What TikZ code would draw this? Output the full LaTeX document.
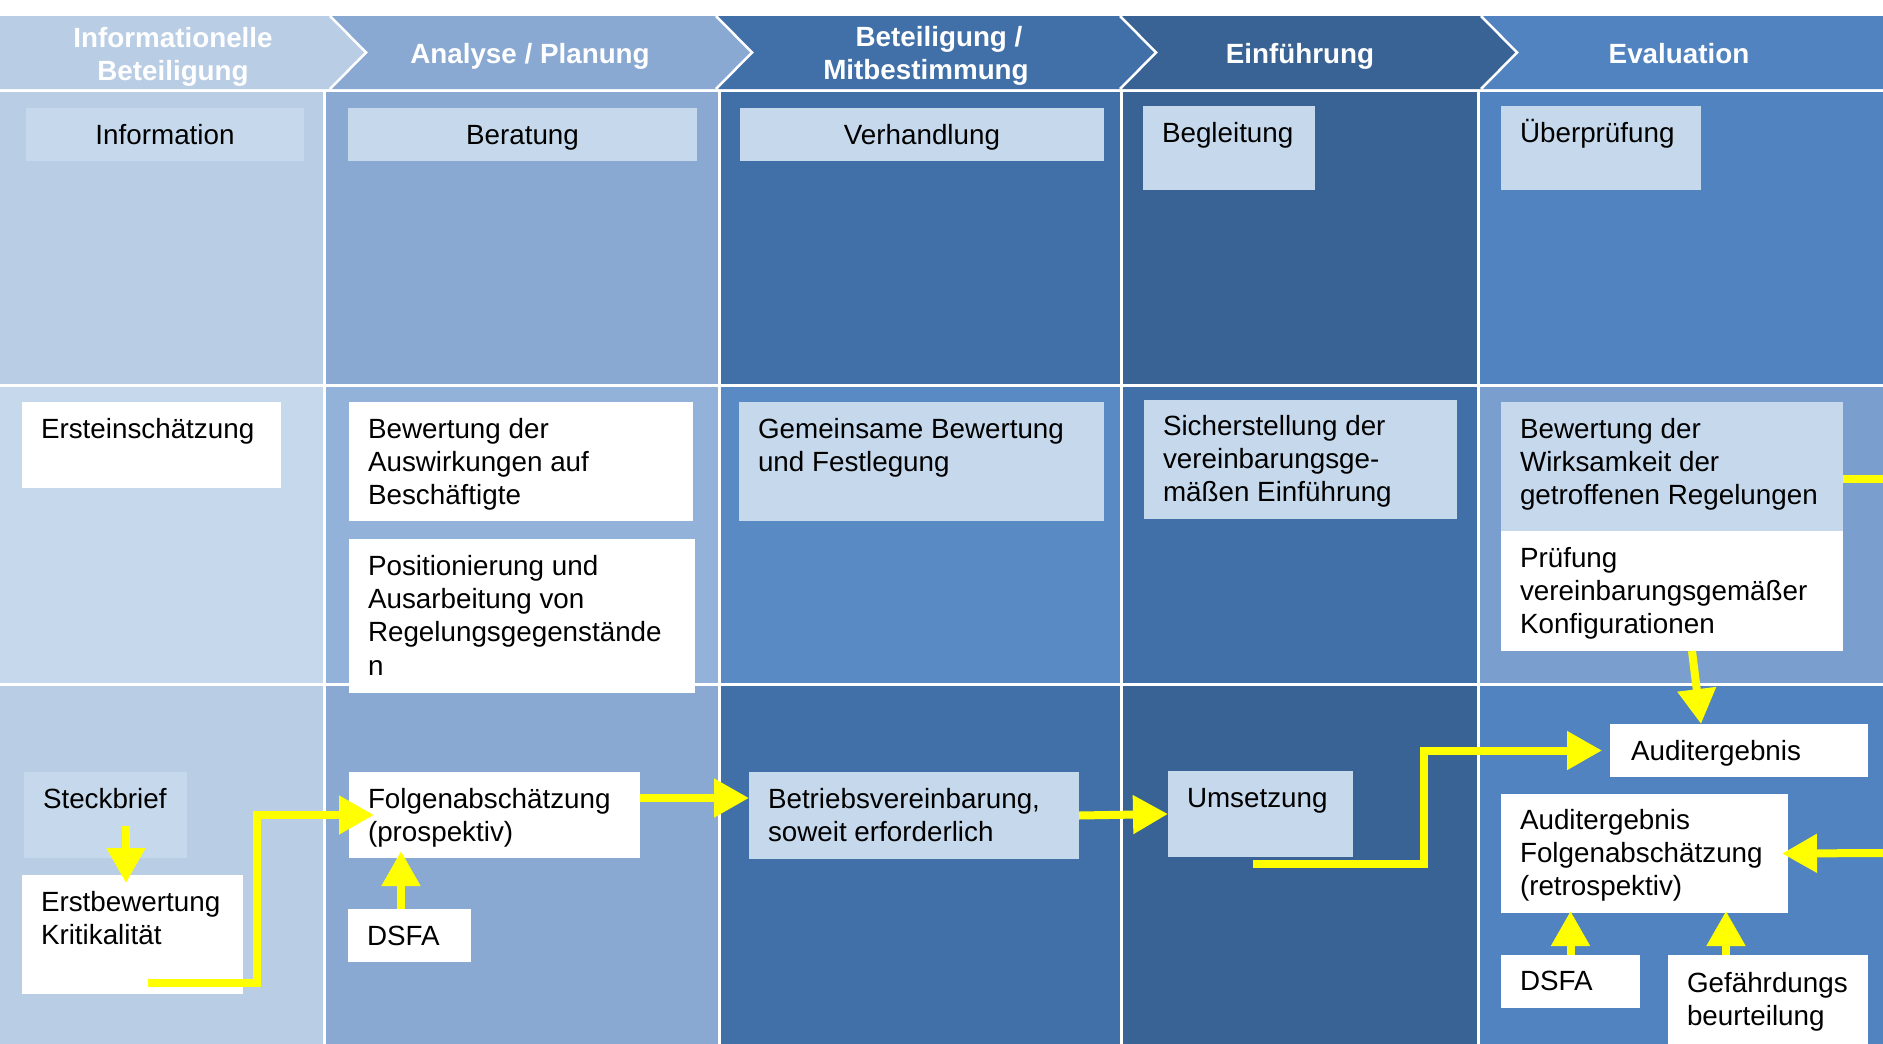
\documentclass[tikz,border=0pt]{standalone}
\usepackage{fontspec}
\setmainfont{Liberation Sans}
\usetikzlibrary{arrows.meta}
\definecolor{cA}{HTML}{B9CDE5}
\definecolor{cB}{HTML}{89A9D2}
\definecolor{cC}{HTML}{4170A8}
\definecolor{cD}{HTML}{386394}
\definecolor{cE}{HTML}{5083BF}
\definecolor{mA}{HTML}{C6D8EB}
\definecolor{mB}{HTML}{93B2D9}
\definecolor{mC}{HTML}{5A8AC3}
\definecolor{mD}{HTML}{4170A8}
\definecolor{mE}{HTML}{7A9FCE}
\definecolor{lbox}{HTML}{C6D9EC}
\definecolor{ylw}{HTML}{FFFF00}
\newcommand\ml[1]{\begin{tabular}[t]{@{}l@{}}#1\end{tabular}}
\newcommand\mc[1]{\begin{tabular}[t]{@{}c@{}}#1\end{tabular}}
\newcommand\mkbox[6]{\node[boxst, fill=#2, minimum width={#5-#3}, minimum height={#6-#4}] (#1) at (#3,#4) {};}
\begin{document}
\begin{tikzpicture}[x=1pt,y=-1pt,
  boxst/.style={anchor=north west, inner sep=0pt, outer sep=0pt, draw=none},
  txt/.style={anchor=base west, inner sep=0pt, outer sep=0pt, font=\fontsize{27.8}{33.4}\selectfont, text=black},
  ctxt/.style={anchor=base, inner sep=0pt, outer sep=0pt, font=\fontsize{27.8}{33.4}\selectfont, text=black},
  head/.style={anchor=base, inner sep=0pt, outer sep=0pt, font=\bfseries\fontsize{27.8}{33.4}\selectfont, text=white},
  ya/.style={draw=ylw, line width=8pt, -{Triangle[length=35pt,width=37pt]}},
  yl/.style={draw=ylw, line width=8pt},
  gridln/.style={draw=white, line width=3pt},
  chev/.style={draw=white, line width=2.5pt}]
\useasboundingbox (0,0) rectangle (1883,1044);
\fill[white] (0,0) rectangle (1883,1044);
% body cells
\fill[cA] (0,89) rectangle (324,385);
\fill[cB] (324,89) rectangle (719,385);
\fill[cC] (719,89) rectangle (1121,385);
\fill[cD] (1121,89) rectangle (1478,385);
\fill[cE] (1478,89) rectangle (1883,385);
\fill[mA] (0,385) rectangle (324,684);
\fill[mB] (324,385) rectangle (719,684);
\fill[mC] (719,385) rectangle (1121,684);
\fill[mD] (1121,385) rectangle (1478,684);
\fill[mE] (1478,385) rectangle (1883,684);
\fill[cA] (0,684) rectangle (324,1044);
\fill[cB] (324,684) rectangle (719,1044);
\fill[cC] (719,684) rectangle (1121,1044);
\fill[cD] (1121,684) rectangle (1478,1044);
\fill[cE] (1478,684) rectangle (1883,1044);
\draw[gridln] (0,90) -- (1883,90);
\draw[gridln] (0,385) -- (1883,385);
\draw[gridln] (0,684) -- (1883,684);
\foreach \xx in {324,719,1121,1478} {\draw[gridln] (\xx,90) -- (\xx,1044);}
% header chevrons
\fill[cA] (0,16) -- (330,16) -- (366,52.5) -- (330,89) -- (0,89) -- cycle;
\fill[cB] (330,16) -- (716,16) -- (752,52.5) -- (716,89) -- (330,89) -- (366,52.5) -- cycle;
\fill[cC] (716,16) -- (1120,16) -- (1156,52.5) -- (1120,89) -- (716,89) -- (752,52.5) -- cycle;
\fill[cD] (1120,16) -- (1481,16) -- (1517,52.5) -- (1481,89) -- (1120,89) -- (1156,52.5) -- cycle;
\fill[cE] (1481,16) -- (1883,16) -- (1883,89) -- (1481,89) -- (1517,52.5) -- cycle;
\draw[chev] (330,16) -- (366,52.5) -- (330,89);
\draw[chev] (716,16) -- (752,52.5) -- (716,89);
\draw[chev] (1120,16) -- (1156,52.5) -- (1120,89);
\draw[chev] (1481,16) -- (1517,52.5) -- (1481,89);
\node[head] (h1) at (173,47) {\mc{Informationelle\\Beteiligung}};
\node[head] (h2) at (530,63) {Analyse / Planung};
\node[head] (h3) at (926,46.5) {\mc{\hspace*{26pt}Beteiligung /\\Mitbestimmung}};
\node[head] (h4) at (1300,63) {Einführung};
\node[head] (h5) at (1679,63) {Evaluation};
% boxes row 1
\mkbox{info}{lbox}{26}{108}{304}{161}
\mkbox{bera}{lbox}{348}{108}{697}{161}
\mkbox{verh}{lbox}{740}{108}{1104}{161}
\mkbox{begl}{lbox}{1143}{106}{1315}{190}
\mkbox{uebe}{lbox}{1501}{106}{1701}{190}
% boxes row 2
\mkbox{erste}{white}{22}{402}{281}{488}
\mkbox{bewa}{white}{349}{402}{693}{521}
\mkbox{posi}{white}{349}{539}{695}{693}
\mkbox{gemb}{lbox}{739}{402}{1104}{521}
\mkbox{sich}{lbox}{1144}{400}{1457}{519}
\mkbox{wirk}{lbox}{1501}{402}{1843}{531}
\mkbox{pruef}{white}{1501}{531}{1843}{651}
% boxes row 3
\mkbox{steck}{lbox}{24}{772}{187}{858}
\mkbox{erstb}{white}{22}{875}{243}{994}
\mkbox{folg}{white}{349}{772}{640}{858}
\mkbox{dsfa}{white}{348}{909}{471}{962}
\mkbox{betr}{lbox}{749}{772}{1079}{859}
\mkbox{umse}{lbox}{1168}{771}{1353}{857}
\mkbox{audit}{white}{1610}{724}{1868}{777}
\mkbox{retro}{white}{1501}{794}{1788}{913}
\mkbox{dsfb}{white}{1501}{955}{1640}{1008}
\mkbox{gef}{white}{1668}{955}{1868}{1044}
% connectors
\coordinate (a1s) at (126,826);
\draw[ya, shorten >=-8pt] (a1s) -- (a1s |- erstb.north);
\coordinate (a2s) at (148,983);
\draw[ya, shorten >=-25pt] (a2s) -- ++(109,0) |- (folg.west);
\coordinate (a3) at (401,909);
\draw[ya, shorten >=-7pt] (a3) -- (a3 |- folg.south);
\coordinate (a4) at (640,798);
\draw[ya] (a4) -- (a4 -| betr.west);
\draw[ya] (betr.east) -- (umse.west);
\coordinate (a6) at (1253,864);
\draw[ya, shorten >=8pt] (a6) -- ++(171,0) |- (audit.west);
\coordinate (a7s) at (1692,651);
\coordinate (a7e) at (1701,724);
\draw[ya] (a7s) -- (a7e);
\coordinate (a8) at (1883,479);
\draw[yl] (wirk.east |- a8) -- (a8);
\coordinate (a9) at (1883,853);
\draw[ya, shorten >=-6pt] (a9) -- (retro.east);
\draw[ya, shorten >=-2pt] (dsfb.north) -- (dsfb.north |- retro.south);
\coordinate (a11) at (1726,955);
\draw[ya, shorten >=-2pt] (a11) -- (a11 |- retro.south);
% texts
\node[ctxt] (t-info) at (info.center |- 0,144) {Information};
\node[ctxt] (t-bera) at (bera.center |- 0,144) {Beratung};
\node[ctxt] (t-verh) at (verh.center |- 0,144) {Verhandlung};
\node[txt] (t-begl) at ([shift={(19,36)}]begl.north west) {Begleitung};
\node[txt] (t-uebe) at ([shift={(19,36)}]uebe.north west) {Überprüfung};
\node[txt] (t-erste) at ([shift={(19,36)}]erste.north west) {Ersteinschätzung};
\node[txt] (t-bewa) at ([shift={(19,36)}]bewa.north west) {\ml{Bewertung der\\Auswirkungen auf\\Beschäftigte}};
\node[txt] (t-posi) at ([shift={(19,36)}]posi.north west) {\ml{Positionierung und\\Ausarbeitung von\\Regelungsgegenstände\\n}};
\node[txt] (t-gemb) at ([shift={(19,36)}]gemb.north west) {\ml{Gemeinsame Bewertung\\und Festlegung}};
\node[txt] (t-sich) at ([shift={(19,35)}]sich.north west) {\ml{Sicherstellung der\\vereinbarungsge-\\mäßen Einführung}};
\node[txt] (t-wirk) at ([shift={(19,36)}]wirk.north west) {\ml{Bewertung der\\Wirksamkeit der\\getroffenen Regelungen}};
\node[txt] (t-pruef) at ([shift={(19,36)}]pruef.north west) {\ml{Prüfung\\vereinbarungsgemäßer\\Konfigurationen}};
\node[txt] (t-steck) at ([shift={(19,36)}]steck.north west) {Steckbrief};
\node[txt] (t-erstb) at ([shift={(19,36)}]erstb.north west) {\ml{Erstbewertung\\Kritikalität}};
\node[txt] (t-folg) at ([shift={(19,36)}]folg.north west) {\ml{Folgenabschätzung\\(prospektiv)}};
\node[txt] (t-dsfa) at ([shift={(19,36)}]dsfa.north west) {DSFA};
\node[txt] (t-betr) at ([shift={(19,36)}]betr.north west) {\ml{Betriebsvereinbarung,\\soweit erforderlich}};
\node[txt] (t-umse) at ([shift={(19,36)}]umse.north west) {Umsetzung};
\node[txt] (t-audit) at ([shift={(21,36)}]audit.north west) {Auditergebnis};
\node[txt] (t-retro) at ([shift={(19,35)}]retro.north west) {\ml{Auditergebnis\\Folgenabschätzung\\(retrospektiv)}};
\node[txt] (t-dsfb) at ([shift={(19,35)}]dsfb.north west) {DSFA};
\node[txt] (t-gef) at ([shift={(19,37)}]gef.north west) {\ml{Gefährdungs\\beurteilung}};
\end{tikzpicture}
\end{document}
